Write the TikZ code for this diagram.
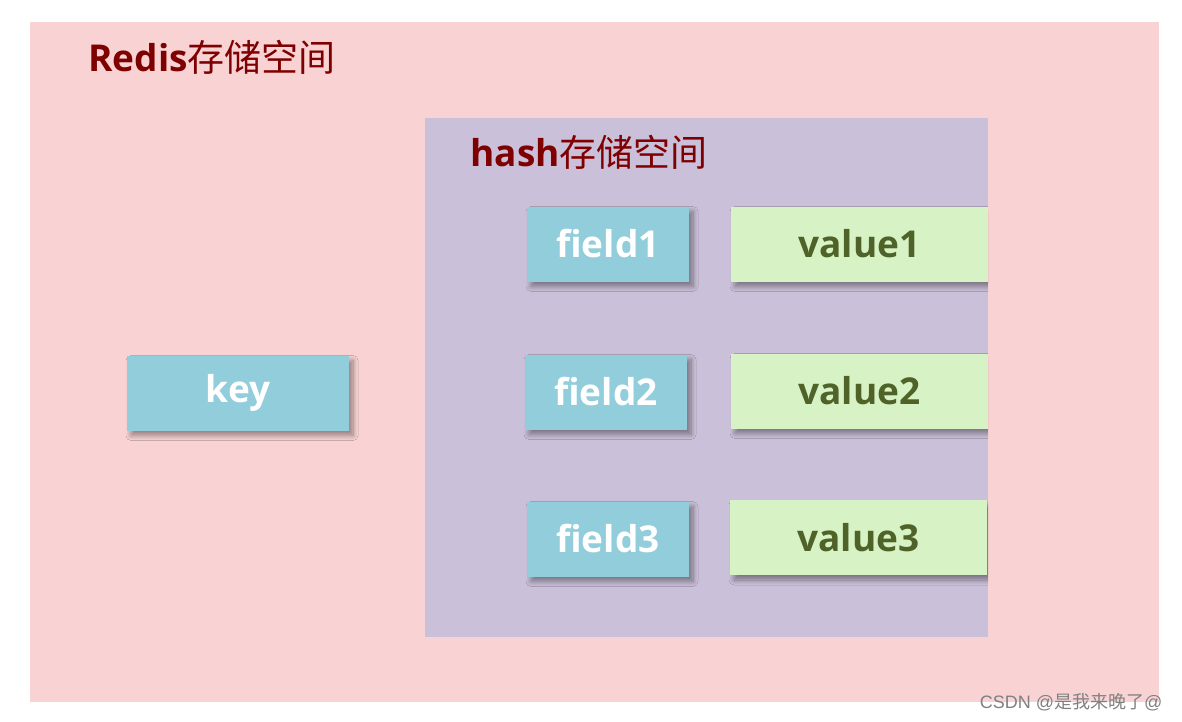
\documentclass[tikz,border=0pt]{standalone}
\usepackage{fontspec}
\setmainfont{Open Sans}
\newfontfamily\cjk{Noto Sans CJK SC}
\newfontfamily\markfont{Liberation Sans}
\usetikzlibrary{positioning}
\usetikzlibrary{shadows.blur}
\definecolor{redisbg}{HTML}{F9D3D4}
\definecolor{hashbg}{HTML}{CBC0D9}
\definecolor{fieldblue}{HTML}{92CDDC}
\definecolor{valuegreen}{HTML}{D7F2C5}
\definecolor{titlered}{HTML}{7F0000}
\definecolor{valuetext}{HTML}{4F6228}

\begin{document}
\begin{tikzpicture}[%
  x=1pt, y=-1pt,
  cell/.style={rectangle, inner sep=0pt, minimum height=75pt,
    font=\fontsize{37}{40}\selectfont\bfseries,
    blur shadow={shadow xshift=4pt, shadow yshift=-5pt,
      shadow blur radius=5pt, shadow blur steps=10, shadow opacity=40}},
  fieldbox/.style={cell, fill=fieldblue, text=white, minimum width=162pt},
  valuebox/.style={cell, fill=valuegreen, text=valuetext, minimum width=257pt},
  spacetitle/.style={anchor=base west, text=titlered, font=\fontsize{37}{40}\selectfont},
]

  \useasboundingbox (0,0) rectangle (1182,722);

  % redis space and hash space
  \fill[redisbg] (30,22) rectangle (1159,702);
  \fill[hashbg] (425,118) rectangle (988,637);

  \node[spacetitle] (redistitle) at (85,72) {\textbf{Redis}\cjk 存储空间};
  \node[spacetitle] (hashtitle) at (467,167) {\textbf{hash}\cjk 存储空间};

  \node[fieldbox, minimum width=222pt] (key) at (238,393) {key};

  \begin{scope}
    \clip (425,118) rectangle (988,637);
    \node[fieldbox] (field1) at (608,244) {field1};
    \node[fieldbox] (field2) at (606,392) {field2};
    \node[fieldbox] (field3) at (608,539) {field3};

    \node[valuebox] (value1) at (859.5,244) {value1};
    \node[valuebox] (value2) at (859.5,391) {value2};
    \node[valuebox] (value3) at (858.5,537.5) {value3};
  \end{scope}

  \node[anchor=base east, text=gray, font=\markfont\fontsize{18}{20}\selectfont]
    (mark) at (1166,708) {CSDN @{\cjk 是我来晚了}@};

\end{tikzpicture}
\end{document}
